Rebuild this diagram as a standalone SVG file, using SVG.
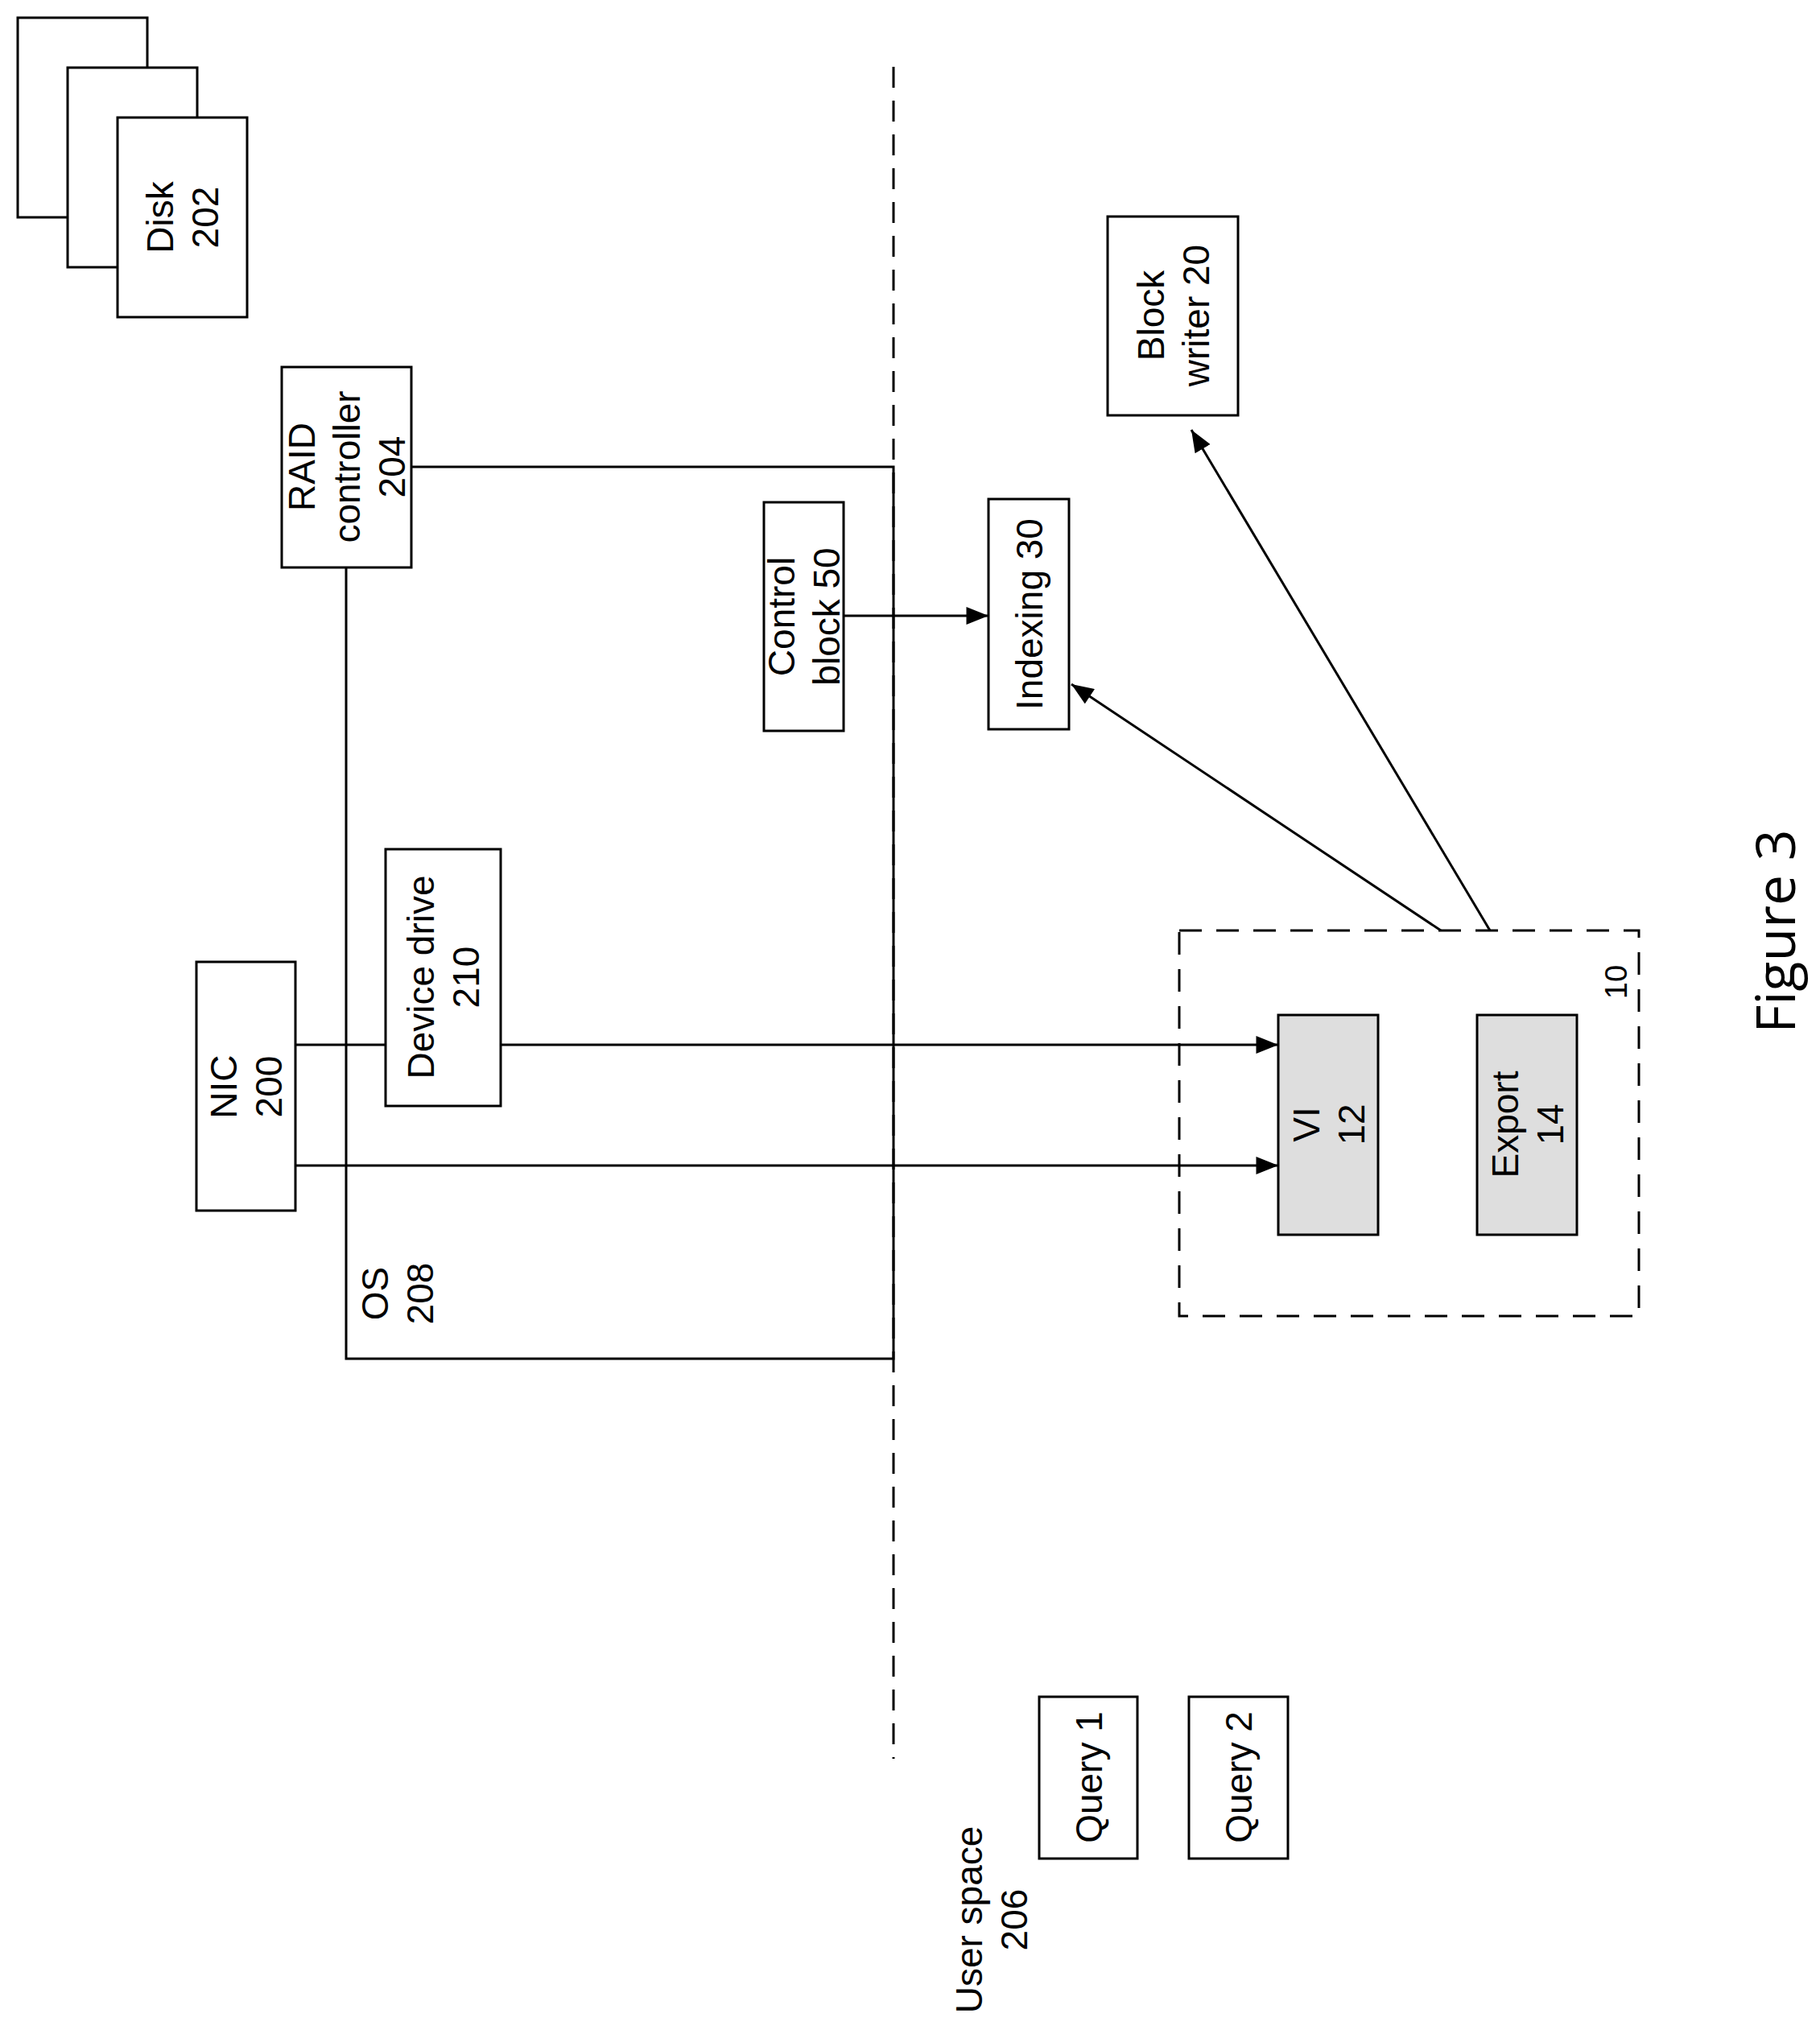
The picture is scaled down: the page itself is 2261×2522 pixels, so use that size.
<svg xmlns="http://www.w3.org/2000/svg" width="2261" height="2522" viewBox="0 0 2261 2522">
<style>
.b{fill:#fff;stroke:#000;stroke-width:3}
.g{fill:#dedede;stroke:#000;stroke-width:3}
.l{fill:none;stroke:#000;stroke-width:3}
.t{font-family:"Liberation Sans",Arial,sans-serif;font-size:46px;text-anchor:middle;fill:#000}
</style>
<defs><marker id="a" markerWidth="10" markerHeight="8" refX="10" refY="4" orient="auto" markerUnits="userSpaceOnUse" viewBox="0 0 10 8"><path d="M0,0L10,4L0,8z"/></marker>
<marker id="A" viewBox="0 0 10 8" refX="10" refY="4" markerWidth="28" markerHeight="22" orient="auto" markerUnits="userSpaceOnUse"><path d="M0,0L10,4L0,8z"/></marker></defs>
<rect width="2261" height="2522" fill="#fff"/>
<g id="connectors">
<line x1="1110" y1="83" x2="1110" y2="2185" class="l" stroke-dasharray="26,16"/>
<polyline points="511,580 1110,580 1110,1688 430,1688 430,705" class="l"/>
<line x1="1048" y1="765" x2="1228" y2="765" class="l" marker-end="url(#A)"/>
<line x1="1790" y1="1156" x2="1331" y2="850" class="l" marker-end="url(#A)"/>
<line x1="1851" y1="1156" x2="1480" y2="534" class="l" marker-end="url(#A)"/>
<line x1="367" y1="1298" x2="479" y2="1298" class="l"/>
<line x1="622" y1="1298" x2="1588" y2="1298" class="l" marker-end="url(#A)"/>
<line x1="367" y1="1448" x2="1588" y2="1448" class="l" marker-end="url(#A)"/>
</g>
<g id="disk">
<rect x="22" y="22" width="161" height="248" class="b"/>
<rect x="84" y="84" width="161" height="248" class="b"/>
<rect x="146" y="146" width="161" height="248" class="b"/>
<text class="t" transform="rotate(-90 226 270)" x="226" y="270"><tspan x="226" dy="-11">Disk</tspan><tspan x="226" dy="56">202</tspan></text>
</g>
<g id="raid"><rect x="350" y="456" width="161" height="249" class="b"/>
<text class="t" transform="rotate(-90 430 580)" x="430" y="580"><tspan x="430" dy="-39">RAID</tspan><tspan x="430" dy="56">controller</tspan><tspan x="430" dy="56">204</tspan></text></g>
<g id="control"><rect x="949" y="624" width="99" height="284" class="b"/>
<text class="t" transform="rotate(-90 998 766)" x="998" y="766"><tspan x="998" dy="-11">Control</tspan><tspan x="998" dy="56">block 50</tspan></text></g>
<g id="indexing"><rect x="1228" y="620" width="100" height="286" class="b"/>
<text class="t" transform="rotate(-90 1278 763)" x="1278" y="763" dy="17">Indexing 30</text></g>
<g id="blockwriter"><rect x="1376" y="269" width="162" height="247" class="b"/>
<text class="t" transform="rotate(-90 1457 392)" x="1457" y="392"><tspan x="1457" dy="-11">Block</tspan><tspan x="1457" dy="56">writer 20</tspan></text></g>
<g id="nic"><rect x="244" y="1195" width="123" height="309" class="b"/>
<text class="t" transform="rotate(-90 305 1350)" x="305" y="1350"><tspan x="305" dy="-11">NIC</tspan><tspan x="305" dy="56">200</tspan></text></g>
<g id="devicedrive"><rect x="479" y="1055" width="143" height="319" class="b"/>
<text class="t" transform="rotate(-90 550 1214)" x="550" y="1214"><tspan x="550" dy="-11">Device drive</tspan><tspan x="550" dy="56">210</tspan></text></g>
<g id="os"><text class="t" transform="rotate(-90 493 1607)" x="493" y="1607"><tspan x="493" dy="-11">OS</tspan><tspan x="493" dy="56">208</tspan></text></g>
<g id="group10"><rect x="1465" y="1156" width="571" height="479" fill="none" stroke="#000" stroke-width="3" stroke-dasharray="28,18"/>
<text class="t" font-size="38" style="font-size:38px" transform="rotate(-90 2008 1220)" x="2008" y="1220" dy="13">10</text></g>
<g id="vi"><rect x="1588" y="1261" width="124" height="273" class="g"/>
<text class="t" transform="rotate(-90 1650 1397)" x="1650" y="1397"><tspan x="1650" dy="-11">VI</tspan><tspan x="1650" dy="56">12</tspan></text></g>
<g id="export"><rect x="1835" y="1261" width="124" height="273" class="g"/>
<text class="t" transform="rotate(-90 1897 1397)" x="1897" y="1397"><tspan x="1897" dy="-11">Export</tspan><tspan x="1897" dy="56">14</tspan></text></g>
<g id="query1"><rect x="1291" y="2108" width="122" height="201" class="b"/>
<text class="t" transform="rotate(-90 1352 2208)" x="1352" y="2208" dy="17">Query 1</text></g>
<g id="query2"><rect x="1477" y="2108" width="123" height="201" class="b"/>
<text class="t" transform="rotate(-90 1538 2208)" x="1538" y="2208" dy="17">Query 2</text></g>
<g id="userspace"><text class="t" transform="rotate(-90 1231 2385)" x="1231" y="2385"><tspan x="1231" dy="-11">User space</tspan><tspan x="1231" dy="56">206</tspan></text></g>
<text transform="rotate(-90 2205 1157)" x="2205" y="1157" dy="25" style="font-family:'Open Sans','Liberation Sans',sans-serif;font-size:68px;text-anchor:middle">Figure 3</text>
</svg>
